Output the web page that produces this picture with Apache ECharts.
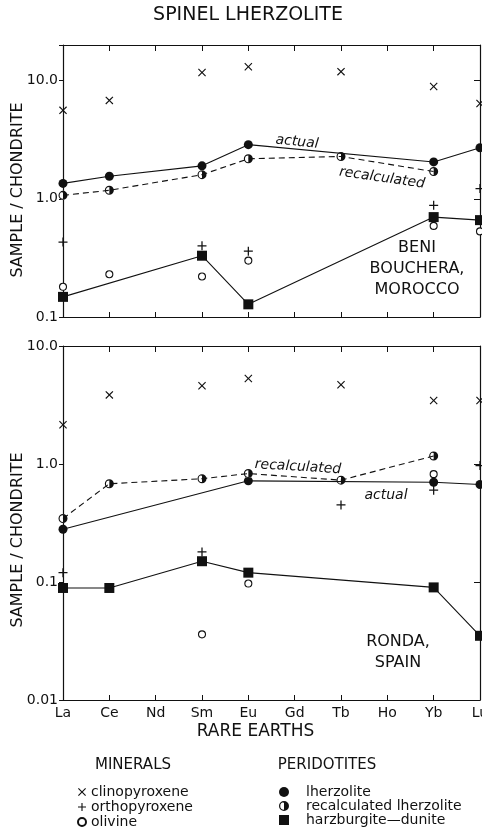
<!DOCTYPE html>
<html>
<head>
<meta charset="utf-8">
<script src="https://cdn.jsdelivr.net/npm/echarts@6.0.0/dist/echarts.min.js"></script>
<style>
  html, body { margin: 0; padding: 0; background: #fff; }
  #chart { width: 482px; height: 840px; }
</style>
</head>
<body>
<div id="chart"></div>
<script>
// rare earth elements along the x axis
const elements = ['La', 'Ce', 'Nd', 'Sm', 'Eu', 'Gd', 'Tb', 'Ho', 'Yb', 'Lu'];

// Beni Bouchera, Morocco (sample / chondrite)
const bbCpx    = [5.6, 6.8, null, 11.7, 13.1, null, 11.9, null, 8.9, 6.4];
const bbOpx    = [0.43, null, null, 0.40, 0.36, null, null, null, 0.88, 1.22];
const bbOl     = [0.18, 0.23, null, 0.22, 0.30, null, null, null, 0.59, 0.53];
const bbLherz  = [1.35, 1.55, null, 1.9, 2.87, null, null, null, 2.05, 2.7];
const bbRecalc = [1.07, 1.18, null, 1.6, 2.18, null, 2.28, null, 1.7, null];
const bbHarz   = [0.148, null, null, 0.33, 0.128, null, null, null, 0.70, 0.66];

// Ronda, Spain
const rCpx    = [2.15, 3.85, null, 4.6, 5.3, null, 4.7, null, 3.45, 3.45];
const rOpx    = [0.12, null, null, 0.18, null, null, 0.45, null, 0.60, 0.97];
const rOl     = [null, null, null, 0.036, 0.097, null, null, null, 0.82, null];
const rLherz  = [0.28, null, null, null, 0.72, null, null, null, 0.70, 0.67];
const rRecalc = [0.345, 0.68, null, 0.75, 0.83, null, 0.73, null, 1.17, null];
const rHarz   = [0.089, 0.089, null, 0.15, 0.12, null, null, null, 0.09, 0.035];

const ink = '#111';
const font = 'DejaVu Sans';

// marker shapes
const crossPath = 'path://M1,0 L5,4 L9,0 L10,1 L6,5 L10,9 L9,10 L5,6 L1,10 L0,9 L4,5 L0,1 Z';
const plusPath = 'path://M4.3,0 H5.7 V4.3 H10 V5.7 H5.7 V10 H4.3 V5.7 H0 V4.3 H4.3 Z';
const halfPath = 'path://M10,0 A10,10 0 0 1 10,20 Z M10,0 A10,10 0 0 0 10,20 L10,17.5 A7.5,7.5 0 0 1 10,2.5 Z';

function decadeLabel(v) {
  const e = Math.log10(v);
  const r = Math.round(e);
  if (Math.abs(e - r) > 1e-6) return '';
  return r >= 0 ? Math.pow(10, r).toFixed(1) : Math.pow(10, r).toFixed(-r);
}

function xAxes(g, showLabels) {
  const line = { lineStyle: { color: ink, width: 1.2 } };
  return [
    {
      gridIndex: g, type: 'category', data: elements, boundaryGap: false,
      axisLine: line,
      axisTick: { inside: true, length: 5, lineStyle: { color: ink, width: 1 } },
      axisLabel: { show: showLabels, fontSize: 14, color: ink, margin: 6, fontFamily: font },
      name: showLabels ? 'RARE EARTHS' : '',
      nameLocation: 'middle', nameGap: 23,
      nameTextStyle: { fontSize: 17, color: ink, fontFamily: font, padding: [0, 32, 0, 0] }
    },
    {
      gridIndex: g, type: 'category', data: elements, boundaryGap: false, position: 'top',
      axisLine: line,
      axisTick: { inside: true, length: 6, lineStyle: { color: ink, width: 1 } },
      axisLabel: { show: false }
    }
  ];
}

function yAxes(g, min, max, shift) {
  const line = { show: true, lineStyle: { color: ink, width: 1.2 } };
  return [
    {
      gridIndex: g, type: 'log', logBase: 10, min: min, max: max, position: 'left',
      axisLine: line,
      axisTick: { show: true, inside: false, length: 4, lineStyle: { color: ink } },
      axisLabel: { formatter: decadeLabel, fontSize: 14, color: ink, margin: 5, fontFamily: font },
      splitLine: { show: false },
      name: 'SAMPLE / CHONDRITE', nameLocation: 'middle', nameGap: 37, nameMoveOverlap: false,
      nameTextStyle: { fontSize: 16, color: ink, fontFamily: font, padding: [0, shift, 0, 0] }
    },
    {
      gridIndex: g, type: 'log', logBase: 10, min: min, max: max, position: 'right',
      axisLine: line,
      axisTick: { show: true, inside: true, length: 6, lineStyle: { color: ink } },
      axisLabel: { show: false },
      splitLine: { show: false }
    }
  ];
}

function lineSeries(g, data, dashed) {
  return {
    type: 'line', xAxisIndex: 2 * g, yAxisIndex: 2 * g, data: data,
    symbol: 'none', connectNulls: true, silent: true,
    lineStyle: { color: ink, width: 1.1, type: dashed ? [6, 4] : 'solid' }
  };
}

function markSeries(g, name, data, symbol, size, style) {
  return {
    type: 'scatter', name: name, xAxisIndex: 2 * g, yAxisIndex: 2 * g, data: data,
    symbol: symbol, symbolSize: size, silent: true,
    itemStyle: Object.assign({ color: ink, opacity: 1 }, style || {})
  };
}

function panelSeries(g, cpx, opx, ol, lherz, recalc, harz) {
  return [
    lineSeries(g, lherz, false),
    lineSeries(g, recalc, true),
    lineSeries(g, harz, false),
    markSeries(g, 'clinopyroxene', cpx, crossPath, 8),
    markSeries(g, 'orthopyroxene', opx, plusPath, 9),
    markSeries(g, 'olivine', ol, 'circle', 7, { color: '#fff', borderColor: ink, borderWidth: 1.1 }),
    markSeries(g, 'lherzolite', lherz, 'circle', 9),
    markSeries(g, 'recalc-bg', recalc, 'circle', 9, { color: '#fff' }),
    markSeries(g, 'recalculated lherzolite', recalc, halfPath, 9),
    markSeries(g, 'harzburgite—dunite', harz, 'rect', 10)
  ];
}

function note(text, x, y, rot, opts) {
  return {
    type: 'text', x: x, y: y, rotation: rot || 0, silent: true,
    style: Object.assign({
      text: text, fill: ink, fontFamily: font, fontSize: 16,
      textAlign: 'center', textVerticalAlign: 'middle'
    }, opts || {})
  };
}

const chart = echarts.init(document.getElementById('chart'));

const option = {
  animation: false,
  backgroundColor: '#fff',
  grid: [
    { left: 63, right: 2, top: 45, height: 272, outerBoundsMode: 'none' },
    { left: 63, right: 2, top: 346, height: 354, outerBoundsMode: 'none' }
  ],
  xAxis: [].concat(xAxes(0, false), xAxes(1, true)),
  yAxis: [].concat(yAxes(0, 0.1, 20, 18), yAxes(1, 0.01, 10, 34)),
  legend: [
    {
      orient: 'vertical', left: 72, top: 780, itemWidth: 8, itemHeight: 8, itemGap: 1,
      selectedMode: false,
      data: ['clinopyroxene', 'orthopyroxene', 'olivine'],
      textStyle: { fontSize: 14, color: ink, fontFamily: font, lineHeight: 14 }
    },
    {
      orient: 'vertical', left: 274, top: 780, itemWidth: 10, itemHeight: 10, itemGap: 0,
      selectedMode: false,
      data: ['lherzolite', 'recalculated lherzolite', 'harzburgite—dunite'],
      textStyle: { fontSize: 14, color: ink, fontFamily: font, lineHeight: 14, padding: [0, 0, 0, 12] }
    }
  ],
  series: [].concat(
    panelSeries(0, bbCpx, bbOpx, bbOl, bbLherz, bbRecalc, bbHarz),
    panelSeries(1, rCpx, rOpx, rOl, rLherz, rRecalc, rHarz)
  ),
  graphic: [
    note('SPINEL LHERZOLITE', 248, 15, 0, { fontSize: 19 }),
    note('actual', 297, 142, -0.10, { fontSize: 14, fontStyle: 'italic' }),
    note('recalculated', 382, 178, -0.14, { fontSize: 14, fontStyle: 'italic' }),
    note('recalculated', 298, 467, -0.06, { fontSize: 14, fontStyle: 'italic' }),
    note('actual', 386, 495, 0, { fontSize: 14, fontStyle: 'italic' }),
    note('BENI\nBOUCHERA,\nMOROCCO', 417, 269, 0, { lineHeight: 21 }),
    note('RONDA,\nSPAIN', 398, 652, 0, { lineHeight: 21 }),
    note('MINERALS', 133, 765, 0, { fontSize: 15 }),
    note('PERIDOTITES', 327, 765, 0, { fontSize: 15 })
  ]
};

chart.setOption(option);
</script>
</body>
</html>
